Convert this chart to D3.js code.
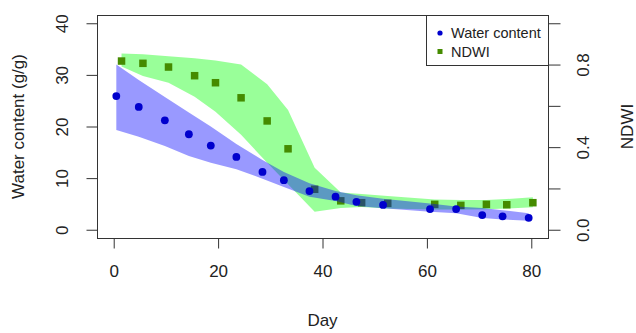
<!DOCTYPE html>
<html lang="en">
<head>
<meta charset="utf-8">
<script src="https://d3js.org/d3.v7.min.js"></script>
<style>
  body { margin: 0; background: #fff; }
  text { font-family: "Liberation Sans", Arial, sans-serif; fill: #222; }
</style>
</head>
<body>
<script>
// water content (left axis, g/g)
const waterDay     = [0.5, 4.8, 9.8, 14.4, 18.6, 23.5, 28.5, 32.6, 37.5, 42.5, 46.5, 51.6, 60.6, 65.6, 70.6, 74.5, 79.5];
const waterContent = [25.9, 23.8, 21.2, 18.5, 16.3, 14.1, 11.2, 9.6, 7.5, 6.4, 5.4, 4.8, 4.0, 4.0, 2.85, 2.6, 2.3];
const waterUpper   = [32.0, 29.0, 25.7, 22.7, 20.0, 16.6, 13.5, 11.2, 9.0, 7.5, 6.7, 6.0, 5.1, 4.5, 4.2, 3.8, 3.2];
const waterLower   = [19.3, 18.0, 16.2, 14.3, 13.0, 11.7, 9.9, 8.3, 6.4, 5.55, 4.6, 4.15, 3.5, 3.2, 2.27, 2.0, 1.75];

// NDWI (right axis)
const ndwiDay   = [1.5, 5.6, 10.5, 15.5, 19.5, 24.4, 29.4, 33.4, 38.5, 43.5, 47.5, 52.5, 61.5, 66.5, 71.4, 75.3, 80.3];
const ndwi      = [0.817, 0.806, 0.788, 0.746, 0.712, 0.639, 0.527, 0.392, 0.196, 0.140, 0.131, 0.128, 0.123, 0.118, 0.123, 0.121, 0.131];
const ndwiUpper = [0.854, 0.85, 0.84, 0.83, 0.82, 0.80, 0.705, 0.58, 0.30, 0.18, 0.173, 0.163, 0.146, 0.144, 0.144, 0.149, 0.157];
const ndwiLower = [0.79, 0.745, 0.712, 0.644, 0.572, 0.46, 0.324, 0.22, 0.087, 0.105, 0.11, 0.103, 0.098, 0.098, 0.099, 0.103, 0.109];

const dayTicks   = [0, 20, 40, 60, 80];
const waterTicks = [0, 10, 20, 30, 40];
const ndwiTicks  = [0, 0.2, 0.4, 0.6, 0.8, 1.0];
const ndwiLabelled = [0, 0.4, 0.8];

const width = 636, height = 333;
const box = {left: 97, right: 548, top: 15, bottom: 238};

const svg = d3.select("body").append("svg")
    .attr("width", width)
    .attr("height", height);

const x = d3.scaleLinear().domain([-3.2, 83.2]).range([box.left, box.right]);
const y = d3.scaleLinear().domain([-1.6, 41.6]).range([box.bottom, box.top]);
const y2 = d3.scaleLinear().domain([-0.04, 1.04]).range([box.bottom, box.top]);

// bands
const band = (ys) => d3.area()
    .x(d => x(d.day))
    .y0(d => ys(d.lo))
    .y1(d => ys(d.hi));

const ndwiBand = ndwiDay.map((d, i) => ({day: d, lo: ndwiLower[i], hi: ndwiUpper[i]}));
const waterBand = waterDay.map((d, i) => ({day: d, lo: waterLower[i], hi: waterUpper[i]}));

svg.append("path")
   .attr("d", band(y2)(ndwiBand))
   .attr("fill", "rgba(0,255,0,0.4)");

// NDWI squares
const sq = 7.5;
svg.append("g").selectAll("rect")
   .data(ndwiDay)
   .join("rect")
   .attr("x", d => x(d) - sq / 2)
   .attr("y", (d, i) => y2(ndwi[i]) - sq / 2)
   .attr("width", sq)
   .attr("height", sq)
   .attr("fill", "#458B00");

svg.append("path")
   .attr("d", band(y)(waterBand))
   .attr("fill", "rgba(0,0,255,0.4)");

// water content dots
svg.append("g").selectAll("circle")
   .data(waterDay)
   .join("circle")
   .attr("cx", d => x(d))
   .attr("cy", (d, i) => y(waterContent[i]))
   .attr("r", 3.9)
   .attr("fill", "#0000CD");

// frame
svg.append("rect")
   .attr("x", box.left + 0.5)
   .attr("y", box.top + 0.5)
   .attr("width", box.right - box.left)
   .attr("height", box.bottom - box.top)
   .attr("fill", "none")
   .attr("stroke", "#333");

const tickFont = 17;

// bottom axis
const xAxis = svg.append("g")
   .attr("transform", "translate(0," + (box.bottom + 0.5) + ")")
   .call(d3.axisBottom(x).tickValues(dayTicks).tickSize(10).tickPadding(16));
xAxis.select(".domain").attr("d", "M" + x(0) + ",0H" + x(80)).attr("stroke", "#333");
xAxis.selectAll(".tick line").attr("stroke", "#333");
xAxis.selectAll(".tick text").attr("font-size", tickFont).attr("font-family", null).attr("fill", "#222");

// left axis
const yAxis = svg.append("g")
   .attr("transform", "translate(" + (box.left + 0.5) + ",0)")
   .call(d3.axisLeft(y).tickValues(waterTicks).tickSize(11));
yAxis.select(".domain").attr("d", "M0," + y(0) + "V" + y(40)).attr("stroke", "#333");
yAxis.selectAll(".tick line").attr("stroke", "#333");
yAxis.selectAll(".tick text")
   .attr("font-size", tickFont).attr("font-family", null).attr("fill", "#222")
   .attr("x", null).attr("dy", null)
   .attr("text-anchor", "middle")
   .attr("dominant-baseline", "central")
   .attr("transform", "translate(-35,0) rotate(-90)");

// right axis
const y2Axis = svg.append("g")
   .attr("transform", "translate(" + (box.right + 0.5) + ",0)")
   .call(d3.axisRight(y2).tickValues(ndwiTicks).tickSize(12)
     .tickFormat(d => ndwiLabelled.some(v => Math.abs(v - d) < 1e-9) ? d3.format(".1f")(d) : ""));
y2Axis.select(".domain").attr("d", "M0," + y2(0) + "V" + y2(1)).attr("stroke", "#333");
y2Axis.selectAll(".tick line").attr("stroke", "#333");
y2Axis.selectAll(".tick text")
   .attr("font-size", tickFont).attr("font-family", null).attr("fill", "#222")
   .attr("x", null).attr("dy", null)
   .attr("text-anchor", "middle")
   .attr("dominant-baseline", "central")
   .attr("transform", "translate(35,0) rotate(-90)");

// axis titles
svg.append("text")
   .attr("x", (box.left + box.right) / 2)
   .attr("y", 320)
   .attr("text-anchor", "middle")
   .attr("dominant-baseline", "central")
   .attr("font-size", tickFont)
   .text("Day");

svg.append("text")
   .attr("transform", "translate(18," + (box.top + box.bottom) / 2 + ") rotate(-90)")
   .attr("text-anchor", "middle")
   .attr("dominant-baseline", "central")
   .attr("font-size", tickFont)
   .text("Water content (g/g)");

svg.append("text")
   .attr("transform", "translate(627," + (box.top + box.bottom) / 2 + ") rotate(-90)")
   .attr("text-anchor", "middle")
   .attr("dominant-baseline", "central")
   .attr("font-size", tickFont)
   .text("NDWI");

// legend
const lg = svg.append("g");
lg.append("rect")
  .attr("x", 426.5).attr("y", box.top + 0.5)
  .attr("width", box.right - 426).attr("height", 50)
  .attr("fill", "#fff").attr("stroke", "#333");
lg.append("circle").attr("cx", 440).attr("cy", 33).attr("r", 2.6).attr("fill", "#0000CD");
lg.append("rect").attr("x", 437.5).attr("y", 49).attr("width", 5).attr("height", 5).attr("fill", "#458B00");
lg.append("text").attr("x", 451).attr("y", 33).attr("dominant-baseline", "central")
  .attr("font-size", 14.5).text("Water content");
lg.append("text").attr("x", 451).attr("y", 51.5).attr("dominant-baseline", "central")
  .attr("font-size", 14.5).text("NDWI");
</script>
</body>
</html>
